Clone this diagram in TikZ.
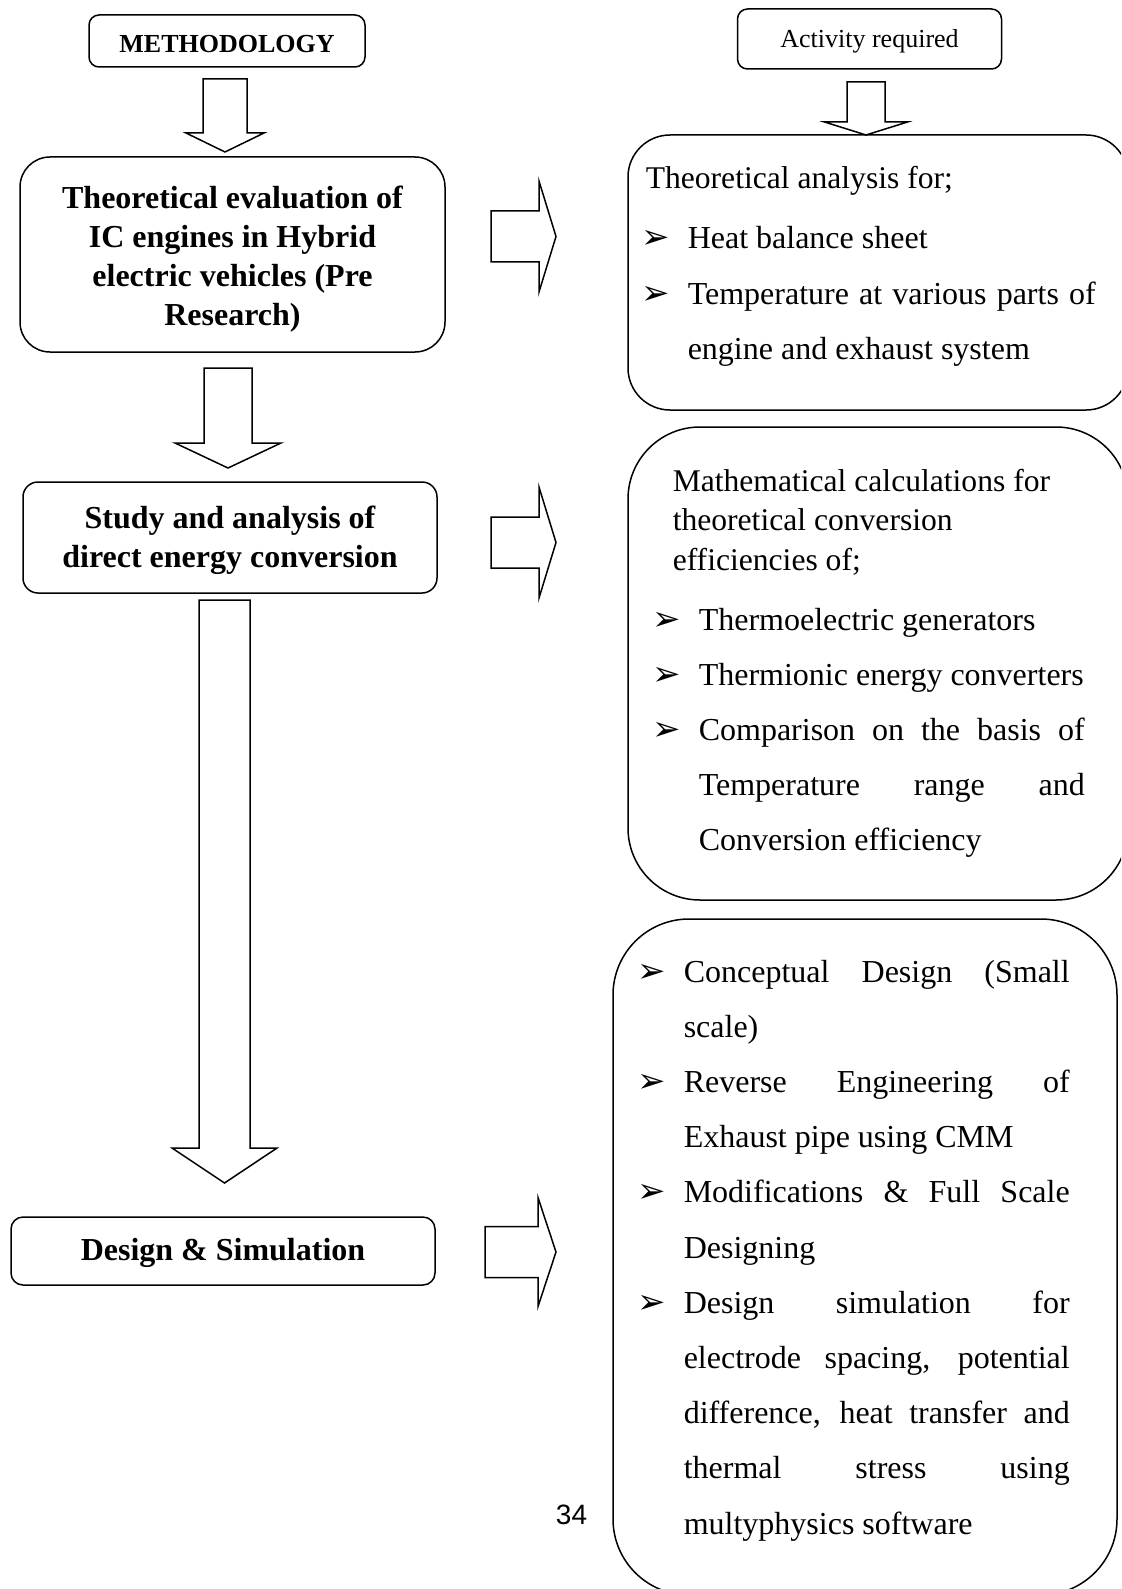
\documentclass[tikz,border=0pt]{standalone}
\usepackage{fontspec}
\setmainfont{Liberation Serif}
\newfontfamily\dingfont{DejaVu Sans}
\newfontfamily\pagefont{Liberation Sans}
\hyphenpenalty=10000
\exhyphenpenalty=10000
\tolerance=10000
\hbadness=10000
\newcommand{\bul}{\makebox[23pt][l]{\dingfont\fontsize{17}{17}\selectfont ➢}}
\newcommand{\itm}[2][193pt]{\noindent\bul\parbox[t]{#1}{#2\strut}\par\prevdepth=\dp\strutbox}

\begin{document}
\begin{tikzpicture}[x=0.5pt,y=-0.5pt,line width=0.75pt,
    head/.style={draw,rounded corners=5pt,inner sep=0pt,font=\fontsize{13}{15}\selectfont},
    stage/.style={draw,text width=196pt,align=flush center,inner sep=0pt,font=\bfseries\fontsize{16}{19.5}\selectfont},
    textdrop/.style={execute at begin node={\rule{0pt}{#1}}},
    frame/.style={draw,inner sep=0pt},
    txt/.style={anchor=base west,inner sep=0pt,text width=#1,align=flush left,font=\fontsize{15.8}{19.75}\selectfont},
    lst/.style={anchor=base west,inner sep=0pt,text width=#1,align=justify,font=\fontsize{16}{27.6}\selectfont},
    pics/downarrow/.style n args={4}{code={
      \draw[line join=miter] (-#1,0) -- (#1,0) -- (#1,#2) -- (#3,#2) -- (0,{#2+#4})
        -- (-#3,#2) -- (-#1,#2) -- cycle;}},
    pics/rightarrow/.style n args={4}{code={
      \draw[line join=miter] (0,-#1) -- (#2,-#1) -- (#2,-#3) -- ({#2+#4},0)
        -- (#2,#3) -- (#2,#1) -- (0,#1) -- cycle;}}]
  \useasboundingbox (0,0) rectangle (1121,1589);
  \clip (0,0) rectangle (1121,1589);

  % headings
  \node[head,textdrop=11.6pt,font=\bfseries\fontsize{13}{15}\selectfont,minimum width=138pt,minimum height=26pt] (meth) at (227,41) {METHODOLOGY};
  \node[head,textdrop=10.9pt,minimum width=132pt,minimum height=30pt] (act) at (869.5,39) {Activity required};

  % methodology stages
  \node[stage,textdrop=16pt,rounded corners=15pt,minimum width=212.5pt,minimum height=97.5pt] (eval) at (232.5,254.5)
    {Theoretical evaluation of\\IC engines in Hybrid\\electric vehicles (Pre\\Research)};
  \node[stage,textdrop=14.5pt,rounded corners=7.5pt,minimum width=207pt,minimum height=55.5pt] (study) at (230,537.5)
    {Study and analysis of\\direct energy conversion};
  \node[stage,textdrop=13pt,rounded corners=6pt,minimum width=212pt,minimum height=34pt] (design) at (223,1251)
    {Design \& Simulation};

  % activity frames
  \node[frame,rounded corners=21pt,minimum width=250pt,minimum height=137.5pt] (act1) at (878,272.5) {};
  \node[frame,rounded corners=36pt,minimum width=250pt,minimum height=236.5pt] (act2) at (878,663.5) {};
  \node[frame,rounded corners=38pt,minimum width=252pt,minimum height=338pt] (act3) at (865,1257) {};

  \node[txt=220pt] (act1h) at (645,189) {Theoretical analysis for;};
  \node[lst=227pt] (act1l) at (641,249)
    {\itm[204pt]{Heat balance sheet}
     \itm[204pt]{Temperature at various parts of\linebreak engine and exhaust system}};

  \node[txt=220pt] (act2h) at (672,491) {Mathematical calculations for\\theoretical conversion\\efficiencies of;};
  \node[lst=216pt] (act2l) at (652,630)
    {\itm{Thermoelectric generators}
     \itm{Thermionic energy converters}
     \itm{Comparison on the basis of\linebreak Temperature range and\linebreak Conversion efficiency}};

  \node[lst=216pt] (act3l) at (637,982)
    {\itm{Conceptual Design (Small\linebreak scale)}
     \itm{Reverse Engineering of\linebreak Exhaust pipe using CMM}
     \itm{Modifications \& Full Scale\linebreak Designing}
     \itm{Design simulation for\linebreak electrode spacing, potential\linebreak difference, heat transfer and\linebreak thermal stress using\linebreak multyphysics software}};

  \node[anchor=base,inner sep=0pt,font=\pagefont\fontsize{14}{16}\selectfont] (pnum) at (571.5,1524) {34};

  % block arrows
  \pic (d1) at (225,79) {downarrow={22}{54}{39}{19}};
  \pic (d2) at (866,82) {downarrow={19}{40}{41.5}{13}};
  \pic (d3) at (228,368) {downarrow={24}{75}{53}{25}};
  \pic (d4) at (224.5,600) {downarrow={25.5}{548}{52.5}{35}};
  \pic (r1) at (491,236.5) {rightarrow={25.5}{48}{55.5}{17}};
  \pic (r2) at (491,542.5) {rightarrow={25.5}{48}{55.5}{17}};
  \pic (r3) at (485,1252) {rightarrow={25.5}{53}{54.5}{18}};
\end{tikzpicture}
\end{document}
